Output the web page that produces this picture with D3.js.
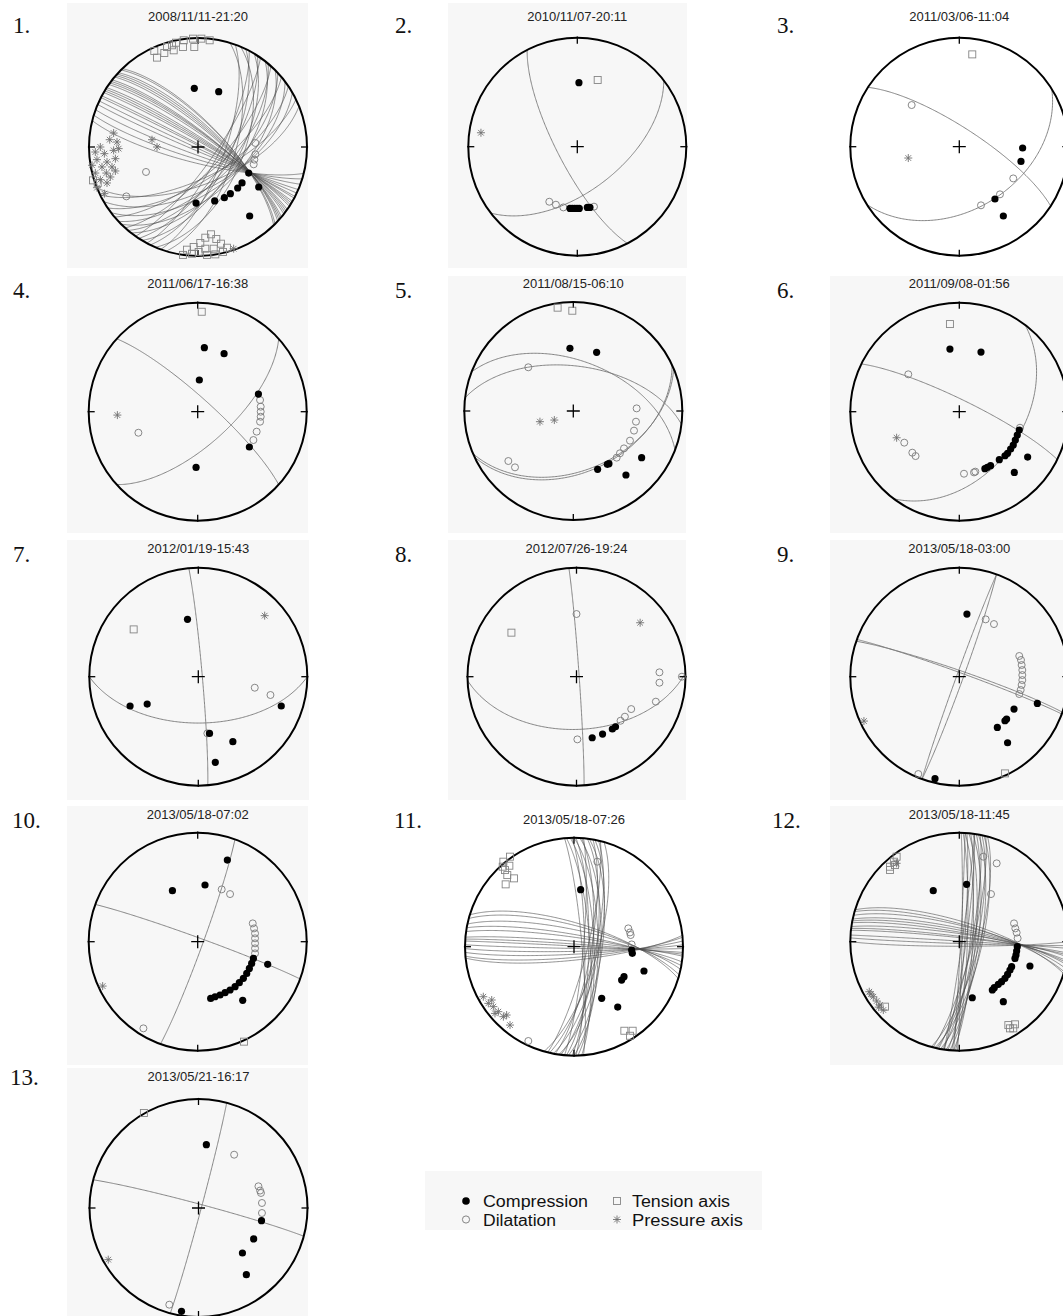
<!DOCTYPE html>
<html><head><meta charset="utf-8">
<script src="https://cdn.jsdelivr.net/npm/d3@7"></script>
<style>body{margin:0;background:#fff;overflow:hidden}</style>
</head><body>
<svg id="c" width="1063" height="1316"></svg>
<script>
// ---------------- DATA (lower-hemisphere positions, normalized east/north; planes = [strike, dip]) ----------------
const titles = ["2008/11/11-21:20","2010/11/07-20:11","2011/03/06-11:04","2011/06/17-16:38","2011/08/15-06:10",
  "2011/09/08-01:56","2012/01/19-15:43","2012/07/26-19:24","2013/05/18-03:00","2013/05/18-07:02",
  "2013/05/18-07:26","2013/05/18-11:45","2013/05/21-16:17"];
const labels = ["1.","2.","3.","4.","5.","6.","7.","8.","9.","10.","11.","12.","13."];
const legendLabels = ["Compression","Dilatation","Tension axis","Pressure axis"];

const comp1 = [[-.034,.538],[.19,.508],[.465,-.239],[.557,-.367],[.404,-.33],[.364,-.376],[.297,-.428],[.242,-.465],[.153,-.495],[-.018,-.514],[.474,-.633]];
const dil1 = [[.526,.037],[.526,-.067],[.517,-.116],[.511,-.159],[-.477,-.229],[-.657,-.453]];
const ten1 = [[-.401,.881],[-.376,.82],[-.309,.862],[-.284,.917],[-.223,.887],[-.202,.957],[-.138,.917],[-.131,.979],[-.046,.994],[-.034,.917],[.031,.994],[.107,.979],[-.239,.933],
  [-.138,-.99],[-.101,-.942],[-.04,-.917],[.021,-.881],[.067,-.832],[.119,-.801],[.168,-.844],[.211,-.887],[.266,-.924],[.144,-.933],[.067,-.933],[.006,-.963],[.083,-.99],[.159,-.985],[.229,-.963],[-.055,-.979],
  [-.963,-.306],[-.92,-.33]];
const pre1 = [[-.774,.128],[-.81,.067],[-.743,.046],[-.896,0],[-.942,-.046],[-.859,-.061],[-.774,-.031],[-.728,-.015],[-.927,-.116],[-.835,-.138],[-.758,-.107],[-.972,-.168],[-.881,-.183],[-.789,-.183],[-.942,-.239],[-.841,-.239],[-.758,-.22],[-.896,-.3],[-.804,-.275],[-.835,-.33],[-.927,-.373],[-.859,-.428],[-.422,.067],[-.376,0],[.327,-.933]];
const planes1 = [[316,72],[315,72.5],[313,74],[312,75],[311,76],[310,77],[308,79],[307,79.5],[306,80],[305,81],[303,83],[302,84],[301,85],[300,86],[298,88],[297,89],[115,89],[113,87],[110,84],[107,81],[104,78],
  [17,62],[20,70],[23,56],[26,66],[28,74],[31,60],[33,68],[35,77],[38,58],[40,64],[42,72],[45,55],[47,62],[50,70],[53,57],[56,66],[60,59],[64,67],[68,62]];

const comp2 = [[.015,.587],[-.067,-.566],[-.046,-.566],[-.024,-.566],[-.003,-.566],[.018,-.566],[.092,-.557],[.116,-.557]];
const dil2 = [[-.257,-.505],[-.196,-.532],[-.128,-.557],[.153,-.55]];
const ten2 = [[.187,.612]];
const pre2 = [[-.884,.128]];
const planes2 = [[152.6,75],[52.5,57]];

const comp3 = [[.581,-.012],[.566,-.135],[.327,-.48],[.404,-.636]];
const dil3 = [[-.437,.382],[.495,-.291],[.373,-.437],[.199,-.538]];
const ten3 = [[.119,.847]];
const pre3 = [[-.468,-.104]];
const planes3 = [[303,76],[58,42]];

const comp4 = [[.061,.587],[.242,.532],[.015,.291],[.557,.162],[.474,-.324],[-.015,-.511]];
const dil4 = [[.572,.107],[.578,.046],[.578,0],[.578,-.046],[.572,-.092],[.541,-.183],[.511,-.26],[-.544,-.193]];
const ten4 = [[.037,.917]];
const pre4 = [[-.737,-.031]];
const planes4 = [[312,80],[48,65.5]];

const comp5 = [[-.031,.575],[.214,.538],[.627,-.428],[.483,-.587],[.223,-.535],[.312,-.489],[.327,-.483]];
const dil5 = [[-.413,.401],[.581,.024],[.575,-.098],[.557,-.18],[.52,-.272],[.465,-.343],[.428,-.388],[.398,-.428],[-.596,-.459],[-.535,-.517]];
const ten5 = [[-.144,.948],[-.009,.92]];
const pre5 = [[-.306,-.098],[-.174,-.083]];
const planes5 = [[291,52],[277,56],[65,43],[67,44.5]];

const comp6 = [[-.086,.575],[.199,.547],[.627,-.416],[.505,-.557],[.55,-.168],[.532,-.214],[.514,-.26],[.495,-.306],[.471,-.343],[.443,-.382],[.419,-.404],[.367,-.44],[.287,-.495],[.257,-.511],[.235,-.523]];
const dil6 = [[-.468,.343],[.557,-.147],[-.505,-.284],[-.431,-.376],[-.401,-.407],[.043,-.569],[.135,-.557],[.147,-.55]];
const ten6 = [[-.086,.804]];
const pre6 = [[-.575,-.239]];
const planes6 = [[296,81],[37,42]];

const comp7 = [[-.099,.526],[-.626,-.269],[-.469,-.251],[.761,-.269],[.103,-.52],[.317,-.596],[.156,-.786]];
const dil7 = [[.518,-.101],[.662,-.168],[.083,-.52]];
const ten7 = [[-.593,.434]];
const pre7 = [[.609,.56]];
const planes7 = [[355,87],[90,55]];

const comp8 = [[.144,-.56],[.239,-.526],[.329,-.48],[.358,-.459]];
const dil8 = [[0,.575],[.761,.04],[.761,-.055],[.967,0],[.728,-.229],[.502,-.297],[.444,-.367],[.404,-.404],[.008,-.575]];
const ten8 = [[-.597,.404]];
const pre8 = [[.584,.495]];
const planes8 = [[356,88],[88,50]];

const comp9 = [[.07,.575],[.716,-.245],[.502,-.297],[.434,-.388],[.419,-.404],[.349,-.465],[.443,-.606],[-.223,-.936]];
const dil9 = [[.242,.526],[.318,.483],[.55,.19],[.566,.153],[.572,.107],[.578,.061],[.578,.015],[.578,-.031],[.572,-.076],[.563,-.122],[.55,-.159],[-.376,-.893]];
const ten9 = [[.419,-.887]];
const pre9 = [[-.875,-.407]];
const planes9 = [[290,87],[289,85.5],[20,87],[200,88]];

const comp10 = [[.272,.749],[.067,.52],[-.232,.468],[.642,-.208],[.413,-.538],[.511,-.153],[.495,-.199],[.474,-.245],[.45,-.291],[.419,-.336],[.382,-.376],[.343,-.413],[.297,-.443],[.251,-.468],[.205,-.489],[.159,-.505],[.119,-.52]];
const dil10 = [[.22,.48],[.297,.437],[.505,.168],[.517,.122],[.526,.076],[.526,.031],[.526,-.015],[.526,-.061],[.526,-.107],[-.498,-.795]];
const ten10 = [[.425,-.917]];
const pre10 = [[-.872,-.407]];
const planes10 = [[290,87],[20,86]];

const comp11 = [[.061,.523],[.535,-.061],[.529,-.031],[.459,-.275],[.437,-.306],[.642,-.223],[.254,-.474],[.401,-.554]];
const dil11 = [[.214,.78],[.498,.168],[.514,.131],[.52,.107],[.529,.021],[-.419,-.865]];
const ten11 = [[-.648,.78],[-.587,.826],[-.593,.743],[-.633,.703],[-.612,.657],[-.55,.627],[-.627,.572],[-.654,.734],[.462,-.771],[.538,-.771],[.514,-.817]];
const pre11 = [[-.832,-.459],[-.786,-.52],[-.74,-.55],[-.694,-.596],[-.648,-.642],[-.618,-.627],[-.587,-.719],[-.755,-.489],[-.725,-.612]];
const planes11 = [[287,72.5],[285,74.5],[282,77.5],[280,81],[278,83],[275,86],[274,88],[273,89.5],[91,88.7],[89,86.5],[87,84.4],[85,82],[84,80],
  [355,84],[356,78],[358,75],[359,82],[0,72],[1,79],[3,70],[4,76],[5,83],[7,73],[8,69],[10,77],[11,71],[13,74],[14,80],[16,72]];

const comp12 = [[-.239,.468],[.067,.526],[.648,-.223],[.404,-.55],[.119,-.514],[.532,-.046],[.526,-.086],[.52,-.122],[.511,-.153],[.48,-.229],[.465,-.26],[.443,-.3],[.419,-.336],[.388,-.367],[.358,-.391],[.321,-.422],[.303,-.443]];
const dil12 = [[.22,.78],[.343,.719],[.291,.437],[.502,.168],[.514,.122],[.526,.083],[.535,.031]];
const ten12 = [[-.575,.78],[-.6,.734],[-.636,.688],[-.59,.703],[-.636,.658],[-.682,-.596],[.45,-.765],[.511,-.758],[.495,-.795],[.465,-.795]];
const pre12 = [[-.826,-.459],[-.789,-.505],[-.758,-.544],[-.728,-.581],[-.697,-.627],[-.575,.719],[-.81,-.48],[-.74,-.6]];
const planes12 = [[287,75],[286,77],[284,78],[282,80],[281,81.5],[280,83],[278,84],[277,86],[276,87],[273.5,89.5],[92,88.6],[90,86.6],
  [1,88],[2,84],[3,80],[4,86],[5,78],[6,82],[7,76],[8,85],[9,79],[10,74],[11,81],[12,77],[13,73],[14,80],[15,75],[3,89],[8,88]];

const comp13 = [[.072,.581],[.578,-.116],[.506,-.284],[.403,-.413],[.439,-.612],[-.156,-.948]];
const dil13 = [[.327,.489],[.55,.199],[.573,.138],[.582,.046],[.582,-.046],[-.268,-.887],[.565,.16]];
const ten13 = [[-.501,.872]];
const pre13 = [[-.828,-.474]];
const planes13 = [[285,87],[15,88]];

// ---------------- LAYOUT ----------------
const R = 109;
const layout = [
 {cx:198,  cy:147,   bg:[67,3,308,268],     tb:20.5,  lx:13,  lb:33.3},
 {cx:577.3,cy:146.7, bg:[448,3,687,268],    tb:20.5,  lx:395, lb:33.3},
 {cx:959.3,cy:146.7, bg:null,               tb:20.5,  lx:777, lb:33.3},
 {cx:197.7,cy:411.7, bg:[67,276,308,533],   tb:287.5, lx:13,  lb:298.3},
 {cx:573.3,cy:411,   bg:[448,276,686,533],  tb:287.5, lx:395, lb:298.3},
 {cx:959.3,cy:411.7, bg:[830,276,1063,533], tb:287.5, lx:777, lb:298.3},
 {cx:198.3,cy:676.7, bg:[67,540,309,800],   tb:552.5, lx:13,  lb:561.7},
 {cx:576.5,cy:676.7, bg:[448,540,686,800],  tb:552.5, lx:395, lb:561.7},
 {cx:959.3,cy:676.7, bg:[830,540,1063,800], tb:552.5, lx:777, lb:561.7},
 {cx:197.7,cy:941.7, bg:[67,806,308,1065],  tb:818.5, lx:12,  lb:828.3},
 {cx:574,  cy:946.7, bg:null,               tb:823.5, lx:394, lb:828.3},
 {cx:959.3,cy:941.7, bg:[830,806,1063,1065],tb:818.5, lx:772, lb:828.3},
 {cx:198.5,cy:1208,  bg:[67,1068,308,1316], tb:1081,  lx:10,  lb:1085}
];
const panels = [
 [comp1,dil1,ten1,pre1,planes1],[comp2,dil2,ten2,pre2,planes2],[comp3,dil3,ten3,pre3,planes3],
 [comp4,dil4,ten4,pre4,planes4],[comp5,dil5,ten5,pre5,planes5],[comp6,dil6,ten6,pre6,planes6],
 [comp7,dil7,ten7,pre7,planes7],[comp8,dil8,ten8,pre8,planes8],[comp9,dil9,ten9,pre9,planes9],
 [comp10,dil10,ten10,pre10,planes10],[comp11,dil11,ten11,pre11,planes11],[comp12,dil12,ten12,pre12,planes12],
 [comp13,dil13,ten13,pre13,planes13]
];

// great circle of a plane, lower hemisphere, equal-area (Schmidt) projection, returned as [east, north]
function greatCircle(strike, dip){
  const rad = Math.PI/180, s = strike*rad, d = dip*rad, dd = s + Math.PI/2;
  const S = [Math.cos(s), Math.sin(s), 0];
  const D = [Math.cos(d)*Math.cos(dd), Math.cos(d)*Math.sin(dd), Math.sin(d)];
  return d3.range(0, 180.5, 1).map(a => {
    const c = Math.cos(a*rad), si = Math.sin(a*rad);
    const n = c*S[0] + si*D[0], e = c*S[1] + si*D[1], z = Math.max(0, c*S[2] + si*D[2]);
    const k = 1/Math.sqrt(1+z);
    return [e*k, n*k];
  });
}

const svg = d3.select("#c");
const FONT = "'Liberation Sans', Arial, sans-serif";

function starPath(g, x, y, s, col, w){
  const a = s*0.7071;
  g.append("path").attr("d",`M${x-s},${y}L${x+s},${y}M${x},${y-s}L${x},${y+s}M${x-a},${y-a}L${x+a},${y+a}M${x-a},${y+a}L${x+a},${y-a}`)
    .attr("stroke",col).attr("stroke-width",w).attr("fill","none");
}

panels.forEach((p, i) => {
  const L = layout[i];
  const [comp, dil, ten, pre, planes] = p;
  const g = svg.append("g");
  if (L.bg) g.append("rect").attr("x",L.bg[0]).attr("y",L.bg[1]).attr("width",L.bg[2]-L.bg[0]).attr("height",L.bg[3]-L.bg[1]).attr("fill","#f7f7f7");
  const x = d3.scaleLinear().domain([-1,1]).range([L.cx-R, L.cx+R]);
  const y = d3.scaleLinear().domain([-1,1]).range([L.cy+R, L.cy-R]);
  const line = d3.line().x(d=>x(d[0])).y(d=>y(d[1]));
  const dense = planes.length > 6;
  g.selectAll("path.np").data(planes).join("path").attr("class","np")
    .attr("d", d => line(greatCircle(d[0], d[1])))
    .attr("fill","none").attr("stroke", dense ? "#4a4a4a" : "#777")
    .attr("stroke-width", dense ? 0.6 : 0.9);
  // primitive circle
  g.append("circle").attr("cx",x(0)).attr("cy",y(0)).attr("r",R).attr("fill","none").attr("stroke","#000").attr("stroke-width",2);
  // ticks N E S W
  const tk = [[0,1],[1,0],[0,-1],[-1,0]];
  tk.forEach(t => {
    g.append("line").attr("x1",x(t[0]*1.01)).attr("y1",y(t[1]*1.01)).attr("x2",x(t[0]*0.945)).attr("y2",y(t[1]*0.945))
      .attr("stroke","#000").attr("stroke-width",1.3);
  });
  // center cross
  g.append("path").attr("d",`M${x(0)-6.5},${y(0)}H${x(0)+6.5}M${x(0)},${y(0)-6.5}V${y(0)+6.5}`).attr("stroke","#000").attr("stroke-width",1.3);
  // markers
  dil.forEach(d => g.append("circle").attr("cx",x(d[0])).attr("cy",y(d[1])).attr("r",3.5).attr("fill","none").attr("stroke","#7a7a7a").attr("stroke-width",0.9));
  ten.forEach(d => g.append("rect").attr("x",x(d[0])-3.5).attr("y",y(d[1])-3.5).attr("width",7).attr("height",7).attr("fill","none").attr("stroke","#858585").attr("stroke-width",0.9));
  pre.forEach(d => starPath(g, x(d[0]), y(d[1]), 4, "#707070", 0.9));
  comp.forEach(d => g.append("circle").attr("cx",x(d[0])).attr("cy",y(d[1])).attr("r",3.6).attr("fill","#000"));
  // title and label
  g.append("text").attr("x",L.cx).attr("y",L.tb).attr("text-anchor","middle").attr("font-family",FONT).attr("font-size",13).attr("fill","#222").text(titles[i]);
  g.append("text").attr("x",L.lx).attr("y",L.lb).attr("font-family","'Liberation Serif', 'DejaVu Serif', serif").attr("font-size",23).attr("fill","#111").text(labels[i]);
});

// legend
const lg = svg.append("g");
lg.append("rect").attr("x",425).attr("y",1171).attr("width",337).attr("height",59).attr("fill","#f7f7f7");
lg.append("circle").attr("cx",466).attr("cy",1201).attr("r",3.8).attr("fill","#000");
lg.append("circle").attr("cx",466).attr("cy",1219.5).attr("r",3.6).attr("fill","none").attr("stroke","#777").attr("stroke-width",0.9);
lg.append("rect").attr("x",613.5).attr("y",1197.5).attr("width",7).attr("height",7).attr("fill","none").attr("stroke","#858585").attr("stroke-width",0.9);
starPath(lg, 617, 1219.5, 4, "#707070", 0.9);
[[483,1206.5,0,105],[483,1225.5,1,73],[632,1206.5,2,98],[632,1225.5,3,111]].forEach(t => {
  lg.append("text").attr("x",t[0]).attr("y",t[1]).attr("font-family",FONT).attr("font-size",16)
    .attr("textLength",t[3]).attr("lengthAdjust","spacingAndGlyphs").attr("fill","#111").text(legendLabels[t[2]]);
});
</script>
</body></html>
